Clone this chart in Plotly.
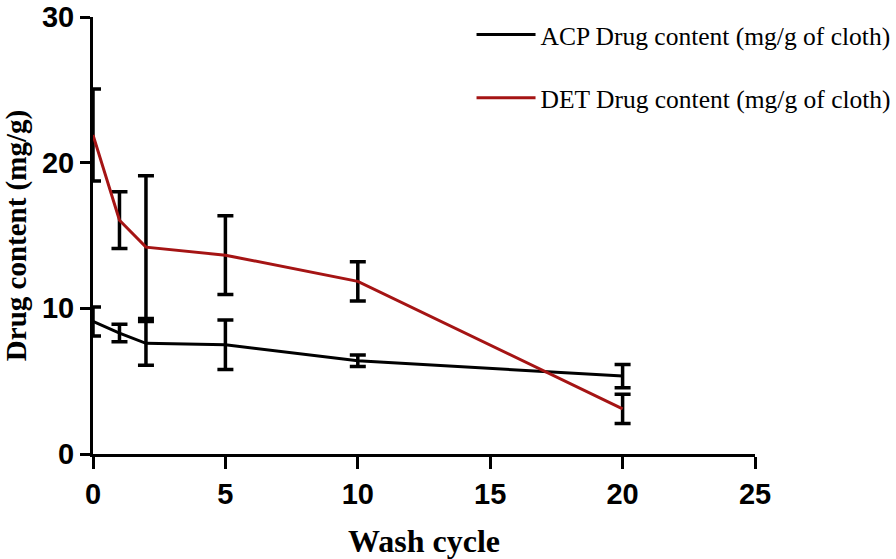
import plotly.graph_objects as go

wash_cycle = [0, 1, 2, 5, 10, 20]
acp_mean = [9.1, 8.3, 7.6, 7.5, 6.4, 5.35]
acp_err = [1.0, 0.6, 1.5, 1.7, 0.4, 0.8]
det_mean = [21.9, 16.05, 14.2, 13.65, 11.85, 3.1]
det_err = [3.15, 1.95, 4.9, 2.7, 1.35, 1.0]

x_ticks = [0, 5, 10, 15, 20, 25]
y_ticks = [0, 10, 20, 30]

fig = go.Figure()
fig.add_trace(go.Scatter(
    x=wash_cycle, y=acp_mean, mode="lines",
    name="ACP Drug content (mg/g of cloth)",
    line=dict(color="black", width=3),
    error_y=dict(type="data", array=acp_err, visible=True, color="black", thickness=3.5, width=8),
    legendgroup="a",
))
fig.add_trace(go.Scatter(
    x=wash_cycle, y=det_mean, mode="lines",
    name="DET Drug content (mg/g of cloth)",
    line=dict(color="#A51414", width=3),
    error_y=dict(type="data", array=det_err, visible=True, color="black", thickness=3.5, width=8),
    legendgroup="b",
))

tickfont = dict(family="Liberation Sans", size=29, color="black", weight="bold")
fig.update_layout(
    width=896, height=559,
    margin=dict(l=93, r=141, t=17, b=105, autoexpand=False),
    plot_bgcolor="white", paper_bgcolor="white",
    showlegend=True,
    legend=dict(x=0.5718, y=1.0126, xanchor="left", yanchor="top", itemwidth=59,
                font=dict(family="Liberation Serif", size=25.5, color="black"),
                tracegroupgap=27, bgcolor="rgba(0,0,0,0)"),
    xaxis=dict(range=[0, 25], tickvals=x_ticks, ticks="outside", ticklen=12, tickwidth=3,
               tickcolor="black", showline=True, linecolor="black", linewidth=3,
               showgrid=False, zeroline=False, tickfont=tickfont, automargin=True,
               ticklabeloverflow="allow",
               title=dict(text="Wash cycle", font=dict(family="Liberation Serif", size=32, color="black", weight="bold"), standoff=22)),
    yaxis=dict(range=[0, 30], tickvals=y_ticks, ticks="outside", ticklen=10, tickwidth=3,
               tickcolor="black", showline=True, linecolor="black", linewidth=3,
               showgrid=False, zeroline=False, tickfont=tickfont, automargin=True,
               ticklabeloverflow="allow",
               title=dict(text="Drug content (mg/g)", font=dict(family="Liberation Serif", size=29, color="black", weight="bold"), standoff=22)),
)
fig.write_html("out.html", config={"displayModeBar": False},
               post_script="document.body.style.margin='0px';")
